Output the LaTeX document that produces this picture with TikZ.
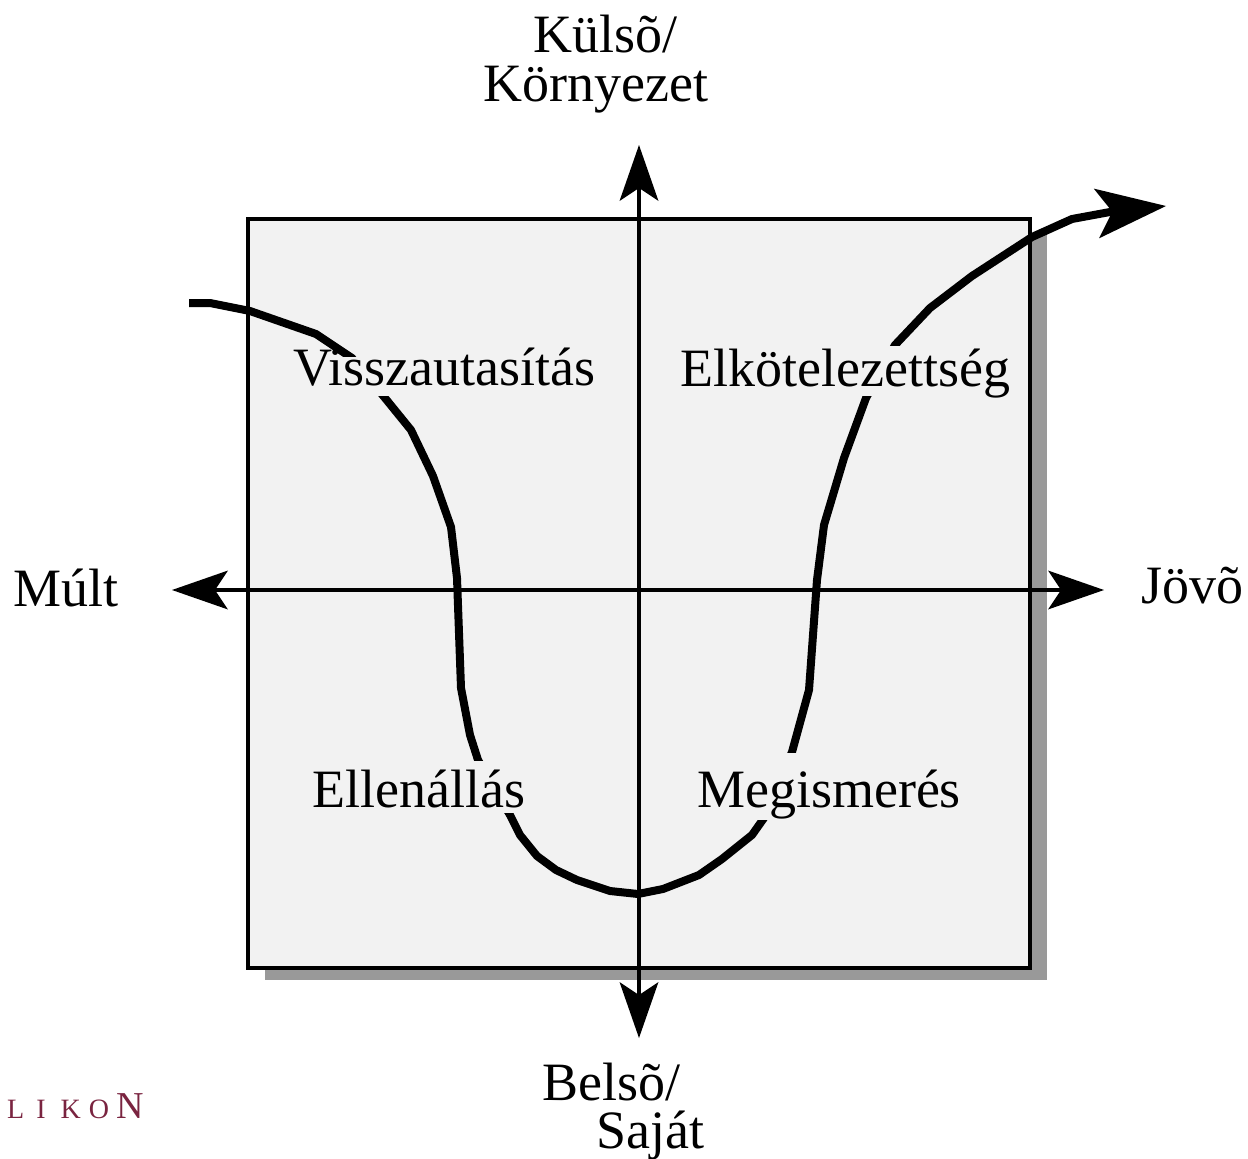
\documentclass[tikz,border=0pt]{standalone}
\usepackage{fontspec}
\setmainfont{Liberation Serif}
\usetikzlibrary{arrows.meta}
\definecolor{boxgray}{HTML}{F2F2F2}
\definecolor{shadowgray}{HTML}{999999}
\definecolor{likonred}{HTML}{7A2440}
\tikzset{
  axisline/.style={line width=3.5pt,black,{Stealth[length=56pt,width=39pt,inset=13pt,line width=0pt]}-{Stealth[length=56pt,width=39pt,inset=13pt,line width=0pt]}},
  journey/.style={line width=8pt,black,line join=miter,-{Stealth[length=70pt,width=50pt,inset=16pt,line width=0pt]}},
  quadrant/.style={anchor=base,inner xsep=2pt,inner ysep=0pt,fill=boxgray,font=\fontsize{54}{54}\selectfont},
  outer/.style={anchor=base,inner sep=0pt,font=\fontsize{54}{54}\selectfont},
}
\begin{document}
\begin{tikzpicture}[x=1pt,y=-1pt]
\useasboundingbox (0,0) rectangle (1248,1159);
\fill[white] (0,0) rectangle (1248,1159);
% shadow and box
\fill[shadowgray] (265,235) rectangle (1047,980);
\draw[line width=4pt,fill=boxgray] (248,218.5) rectangle (1030,968);
% axes
\coordinate (west) at (172,590);
\coordinate (east) at (1104,590);
\coordinate (north) at (639,145);
\coordinate (south) at (639,1038);
\draw[axisline] (west) -- (east);
\draw[axisline] (south) -- (north);
% curve
\coordinate (cstart) at (189,303);
\coordinate (cend) at (1166,206);
\draw[journey] (cstart) -- (210,303) -- (250,311) -- (316,334) -- (352,358) -- (385,398) -- (411,430) -- (433,476) -- (451,527) -- (457,578) -- (461,688) -- (470,735) -- (478,760) -- (510,815) -- (520,835) -- (537,856) -- (556,870) -- (577,880) -- (610,891) -- (638,894) -- (663,889) -- (699,875) -- (722,859) -- (752,835) -- (764,818) -- (792,752) -- (809,690) -- (817,580) -- (824,525) -- (844,458) -- (866,398) -- (895,345) -- (930,308) -- (972,276) -- (1032,237) -- (1072,219) -- (1110,212) -- (cend);
% quadrant labels
\node[quadrant,text height=28pt,text depth=11pt] (rej) at (444.5,385) {Visszautasítás};
\node[quadrant,text height=40pt,text depth=10pt] (com) at (845,386) {Elkötelezettség};
\node[quadrant,text height=46pt,text depth=6pt] (res) at (419,807) {Ellenállás};
\node[quadrant,text height=54pt,text depth=13pt] (rec) at (829,807) {Megismerés};
% outer labels
\node[outer] (ext1) at (605.5,52) {Külsõ/};
\node[outer] (ext2) at (596,101) {Környezet};
\node[outer] (past) at (66,606) {Múlt};
\node[outer] (fut) at (1192.5,603) {Jövõ};
\node[outer] (int1) at (611.5,1100) {Belsõ/};
\node[outer] (int2) at (650,1148) {Saját};
\node[anchor=base west,inner sep=0pt,text=likonred,font=\fontsize{28}{28}\selectfont] (logo) at (7,1118) {L\hspace{12pt}I\hspace{15pt}K\hspace{8pt}O\hspace{7pt}{\fontsize{38}{38}\selectfont N}};
\end{tikzpicture}
\end{document}
